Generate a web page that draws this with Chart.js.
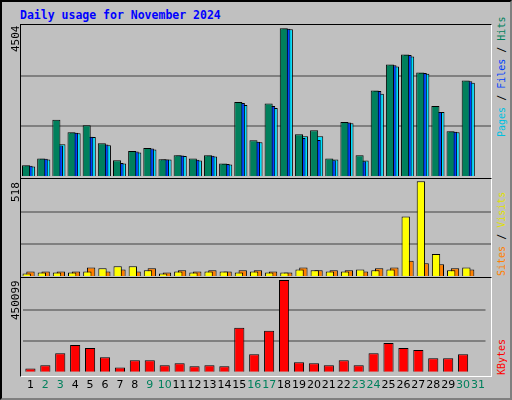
<!DOCTYPE html>
<html>
<head>
<meta charset="utf-8">
<script src="https://cdn.jsdelivr.net/npm/chart.js@4"></script>
<style>
  body { margin: 0; background: #fff; }
  #frame { position: absolute; left: 0; top: 0; width: 508px; height: 396px; background: #c0c0c0;
           border: 2px solid; border-color: #000 #808080 #808080 #000; }
  .panel { position: absolute; left: 20px; width: 470px; border: 1px solid; border-color: #000 #fff #fff #000; }
  .wrap { position: absolute; left: 21px; width: 470px; }
  .txt { position: absolute; font-family: "DejaVu Sans Mono", monospace; font-size: 12px; }
  .vert { transform-origin: left top; transform: rotate(-90deg); white-space: nowrap; font-size: 10px; }
</style>
</head>
<body>
<div id="frame"></div>
<div class="txt" style="left:20px;top:8px;color:#0000ff;font-weight:bold;font-size:11.5px;">Daily usage for November 2024</div>

<div class="panel" style="top:24px;height:153px;"></div>
<div class="panel" style="top:178px;height:98px;"></div>
<div class="panel" style="top:277px;height:98px;"></div>

<div class="wrap" style="top:25px;height:152px;"><canvas id="c1"></canvas></div>
<div class="wrap" style="top:179px;height:98px;"><canvas id="c2"></canvas></div>
<div class="wrap" style="top:278px;height:120px;"><canvas id="c3"></canvas></div>

<div class="txt vert" style="left:9px;top:52px;color:#000;font-size:11px;">4504</div>
<div class="txt vert" style="left:9px;top:202px;color:#000;font-size:11px;">518</div>
<div class="txt vert" style="left:9px;top:320px;color:#000;font-size:11px;">450099</div>

<div class="txt vert" style="left:496px;top:137px;"><span style="color:#00c0e0">Pages</span><span> / </span><span style="color:#0040ff">Files</span><span> / </span><span style="color:#00805c">Hits</span></div>
<div class="txt vert" style="left:496px;top:276px;"><span style="color:#ff8000">Sites</span><span> / </span><span style="color:#e0e000">Visits</span></div>
<div class="txt vert" style="left:496px;top:375px;color:#ff0000;">KBytes</div>

<script>
// data
const days = ['1','2','3','4','5','6','7','8','9','10','11','12','13','14','15','16','17','18','19','20','21','22','23','24','25','26','27','28','29','30','31'];
const weekend = ['2','3','9','10','16','17','23','24','30','31'];
const hits  = [357,560,1732,1355,1569,1019,510,785,876,540,662,560,662,408,2272,1111,2221,4504,1294,1416,560,1661,662,2619,3403,3709,3159,2150,1386,2924,0];
const files = [340,550,950,1340,1220,980,420,770,860,530,650,520,640,390,2240,1070,2150,4490,1182,1120,510,1650,480,2600,3380,3690,3150,1970,1370,2900,0];
const pages = [316,530,988,1325,1212,958,408,744,836,530,632,499,622,377,2181,1050,2089,4473,1233,1233,530,1630,499,2517,3342,3648,3128,1967,1355,2853,0];
const visits = [19,24,24,24,30,47,58,58,36,19,30,24,30,30,24,30,24,24,41,36,30,30,41,36,41,327,518,125,36,52,0];
const sites  = [30,30,30,30,52,30,41,30,47,24,36,30,36,30,36,36,30,24,52,36,36,36,30,47,52,88,75,69,47,41,0];
const kbytes = [21355,36140,95270,134700,119900,75560,26280,60780,60780,36140,46000,31210,36140,31210,218500,90350,203700,450099,50920,46000,36140,60780,36140,95270,144560,119900,110060,70630,70630,90350,0];

Chart.defaults.animation = false;
Chart.defaults.devicePixelRatio = 1;

function bars(label, data, color) {
  return { label: label, data: data, backgroundColor: color, borderColor: '#000', borderWidth: 1, borderSkipped: 'bottom' };
}

function panel(id, datasets, max, catPct, barPct, showX) {
  new Chart(document.getElementById(id), {
    type: 'bar',
    data: { labels: days, datasets: datasets },
    options: {
      responsive: true, maintainAspectRatio: false,
      layout: { padding: 0 },
      datasets: { bar: { categoryPercentage: catPct, barPercentage: barPct, grouped: true } },
      plugins: { legend: { display: false }, tooltip: { enabled: false } },
      scales: {
        x: {
          display: showX,
          grid: { display: false, drawTicks: false },
          border: { display: false },
          ticks: {
            padding: 6, maxRotation: 0, autoSkip: false,
            font: { family: 'DejaVu Sans', size: 11 },
            color: ctx => weekend.includes(days[ctx.index]) ? '#00805c' : '#000'
          }
        },
        y: {
          display: true, min: 0, max: max,
          ticks: { display: false, stepSize: max / 3 },
          grid: {
            color: ctx => (ctx.index === 1 || ctx.index === 2) ? '#808080' : 'rgba(0,0,0,0)',
            lineWidth: 2, drawTicks: false
          },
          border: { display: false }
        }
      }
    }
  });
}

panel('c1', [bars('Hits', hits, '#00805c'), bars('Files', files, '#0040ff'), bars('Pages', pages, '#00e0ff')], 4600, 0.5, 3.2, false);
panel('c2', [bars('Visits', visits, '#ffff00'), bars('Sites', sites, '#ff8000')], 530, 0.5, 2.2, false);
panel('c3', [bars('KBytes', kbytes, '#ff0000')], 460000, 0.68, 1.0, true);
</script>
</body>
</html>
